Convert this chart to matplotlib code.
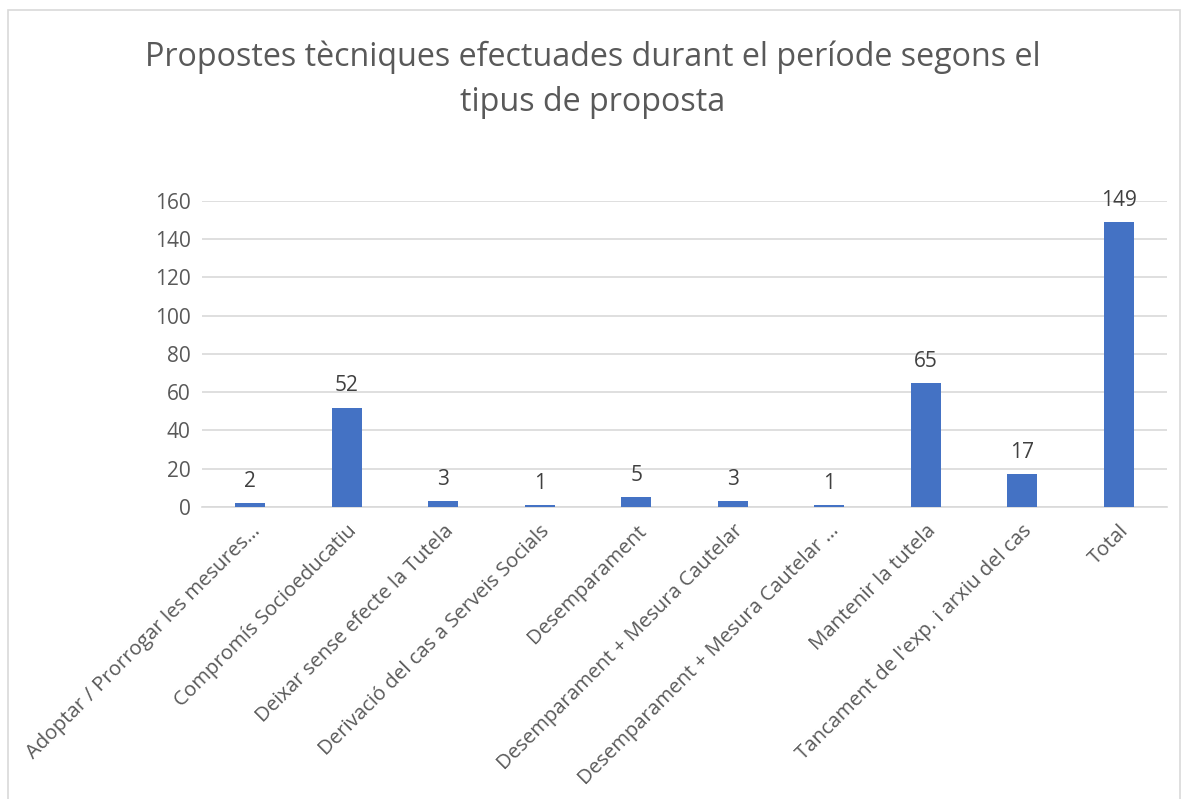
import matplotlib.pyplot as plt
from matplotlib.patches import Rectangle

# Chart data
categories = [
    "Adoptar / Prorrogar les mesures…",
    "Compromís Socioeducatiu",
    "Deixar sense efecte la Tutela",
    "Derivació del cas a Serveis Socials",
    "Desemparament",
    "Desemparament + Mesura Cautelar",
    "Desemparament + Mesura Cautelar …",
    "Mantenir la tutela",
    "Tancament de l'exp. i arxiu del cas",
    "Total",
]
values = [2, 52, 3, 1, 5, 3, 1, 65, 17, 149]
yticks = [0, 20, 40, 60, 80, 100, 120, 140, 160]

title = "Propostes tècniques efectuades durant el període segons el\ntipus de proposta"

plt.rcParams['font.family'] = ['Open Sans', 'DejaVu Sans']

fig = plt.figure(figsize=(11.86, 7.99), dpi=100)
ax = fig.add_axes([0.1703, 0.3655, 0.8137, 0.3830])

x = list(range(len(categories)))
ax.bar(x, values, width=0.31, color='#4472C4', zorder=3)
for xi, v in zip(x, values):
    ax.annotate(str(v), (xi, v), xytext=(0, 8), textcoords='offset points',
                ha='center', va='bottom', fontsize=15, color='#404040')

ax.set_xlim(-0.5, len(categories) - 0.5)
ax.set_ylim(0, 160)
ax.set_yticks(yticks)
ax.set_yticklabels([str(t) for t in yticks], fontsize=15, color='#595959')
ax.yaxis.grid(True, color='#D9D9D9', linewidth=1.2, zorder=0)
ax.tick_params(axis='both', length=0, pad=8)

ax.set_xticks(x)
ax.set_xticklabels(categories, rotation=45, ha='right', rotation_mode='anchor',
                   fontsize=14.7, color='#595959')
ax.tick_params(axis='x', pad=10)

for s in ['top', 'right', 'left']:
    ax.spines[s].set_visible(False)
ax.spines['bottom'].set_color('#D9D9D9')
ax.spines['bottom'].set_linewidth(1.2)

fig.text(0.5, 0.9, title, ha='center', va='center', fontsize=23.2,
         color='#595959', linespacing=1.5)

# light border round the chart area
fig.patches.append(Rectangle((0.007, -0.01), 0.988, 0.998, transform=fig.transFigure,
                             fill=False, edgecolor='#D9D9D9', linewidth=1.2))

fig.savefig('out.png', dpi=100)
